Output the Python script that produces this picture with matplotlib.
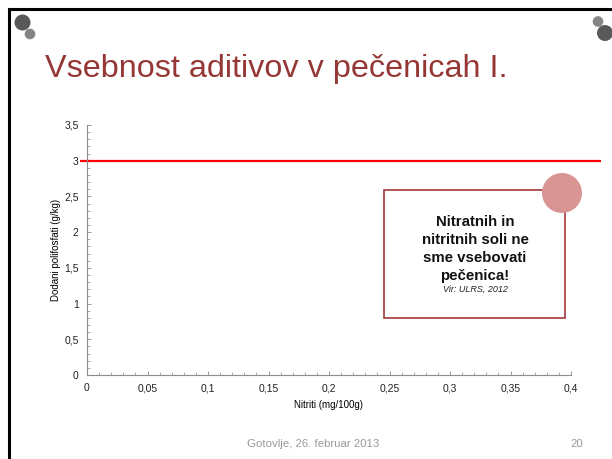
import matplotlib
matplotlib.use("Agg")
import matplotlib.pyplot as plt
from matplotlib.patches import Rectangle, Ellipse
from matplotlib.lines import Line2D
from matplotlib.ticker import MultipleLocator

plt.rcParams['font.family'] = ['Liberation Sans', 'DejaVu Sans']

# -----------------------
# Data
# -----------------------
x_ticks = [0, 0.05, 0.1, 0.15, 0.2, 0.25, 0.3, 0.35, 0.4]
x_tick_labels = ['0', '0,05', '0,1', '0,15', '0,2', '0,25', '0,3', '0,35', '0,4']
y_ticks = [0, 0.5, 1, 1.5, 2, 2.5, 3, 3.5]
y_tick_labels = ['0', '0,5', '1', '1,5', '2', '2,5', '3', '3,5']

limit_x = [-0.006, 0.425]   # red limit line spans past the axes
limit_y = [3, 3]

title = "Vsebnost aditivov v pečenicah I."
note = "Nitratnih in\nnitritnih soli ne\nsme vsebovati\npečenica!"
source = "Vir: ULRS, 2012"
footer = "Gotovlje, 26. februar 2013"
page = "20"

W, H = 612, 459


def fx(px):
    return px / W


def fy(py):
    return 1 - py / H


fig = plt.figure(figsize=(W / 100, H / 100), dpi=100)

# -----------------------
# Slide decorations
# -----------------------
fig.add_artist(Line2D([fx(9), fx(9)], [fy(9), 0], color='black', lw=2.2))
fig.add_artist(Line2D([fx(9), 1], [fy(9), fy(9)], color='black', lw=2.2))

for cx, cy, r, col in [(22.5, 22.5, 8, '#595959'), (30, 34, 5.3, '#858585'),
                       (598, 21.5, 5.3, '#858585'), (605, 33, 8, '#595959')]:
    fig.add_artist(Ellipse((fx(cx), fy(cy)), 2 * r / W, 2 * r / H,
                           color=col, lw=0))

fig.text(fx(45), fy(77), title, fontsize=23.3, color='#953735',
         ha='left', va='baseline')

fig.text(fx(313), fy(444), footer, fontsize=8.2, color='#9a9a9a',
         ha='center', va='center')
fig.text(fx(577), fy(444), page, fontsize=8.2, color='#9a9a9a',
         ha='center', va='center')

# -----------------------
# Chart
# -----------------------
ax = fig.add_axes([fx(87), fy(375), (571 - 87) / W, (375 - 125) / H])
ax.set_xlim(0, 0.4)
ax.set_ylim(0, 3.5)
for s in ['top', 'right']:
    ax.spines[s].set_visible(False)
for s in ['left', 'bottom']:
    ax.spines[s].set_color('#8c8c8c')
    ax.spines[s].set_linewidth(0.8)

ax.set_xticks(x_ticks)
ax.set_xticklabels(x_tick_labels)
ax.set_yticks(y_ticks)
ax.set_yticklabels(y_tick_labels)
ax.xaxis.set_minor_locator(MultipleLocator(0.01))
ax.yaxis.set_minor_locator(MultipleLocator(0.1))
ax.tick_params(which='both', direction='in', color='#9a9a9a', labelsize=7.5,
               labelcolor='#222222', pad=6)
ax.tick_params(which='major', length=3, width=0.7)
ax.tick_params(which='minor', length=2, width=0.6)

ax.set_xlabel('Nitriti (mg/100g)', fontsize=7, labelpad=5)
ax.set_ylabel('Dodani polifosfati (g/kg)', fontsize=7, labelpad=2)

ax.plot(limit_x, limit_y, color='#ff0000', lw=1.6, clip_on=False,
        solid_capstyle='butt')

# -----------------------
# Note box
# -----------------------
fig.add_artist(Rectangle((fx(384), fy(318)), (565 - 384) / W, (318 - 190) / H,
                         fill=False, edgecolor='#a3393b', lw=1.2))
fig.add_artist(Ellipse((fx(562), fy(193)), 40 / W, 40 / H,
                       color='#d99594', lw=0))
fig.text(fx(475), fy(249), note, fontsize=10.8, fontweight='bold',
         ha='center', va='center', linespacing=1.38, color='#111111')
fig.text(fx(475), fy(289.5), source, fontsize=6.5, style='italic',
         ha='center', va='center', color='#222222')

fig.savefig('out.png', dpi=100)
